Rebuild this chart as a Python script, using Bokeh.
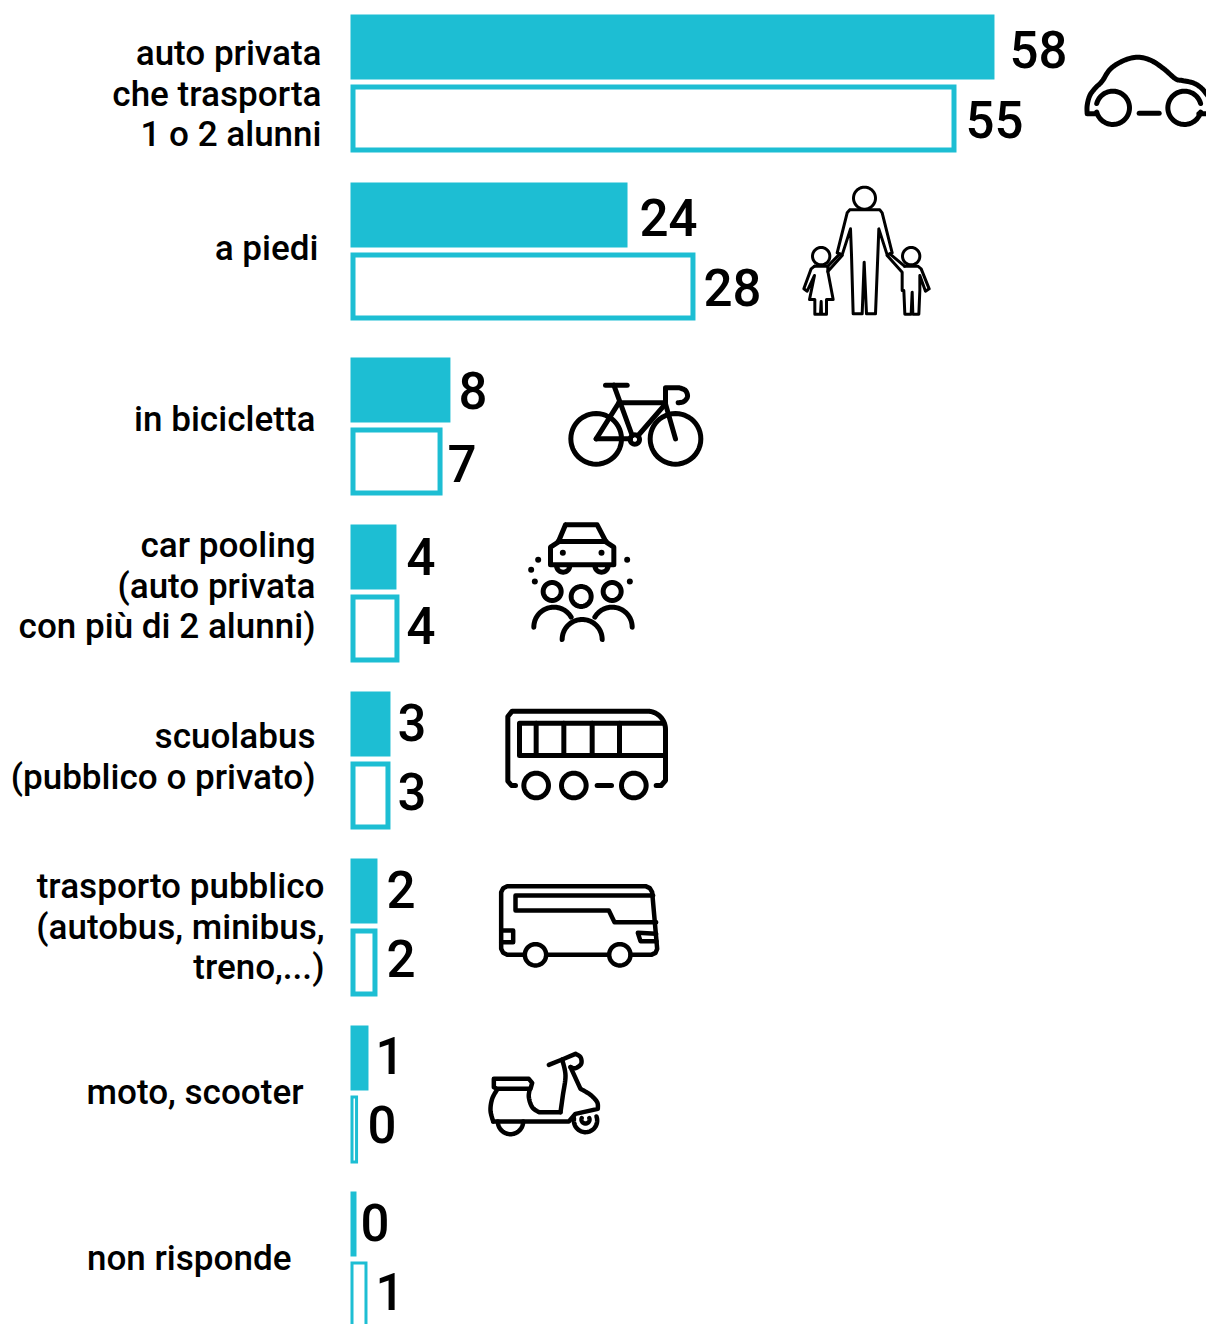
import math
from bokeh.plotting import figure
from bokeh.models import Range1d
from bokeh.core.properties import value
from bokeh.embed import file_html
from bokeh.resources import INLINE

# ---------- data ----------
categories = [
    ["auto privata", "che trasporta", "1 o 2 alunni"],
    ["a piedi"],
    ["in bicicletta"],
    ["car pooling", "(auto privata", "con più di 2 alunni)"],
    ["scuolabus", "(pubblico o privato)"],
    ["trasporto pubblico", "(autobus, minibus,", "treno,...)"],
    ["moto, scooter"],
    ["non risponde"],
]
labels_a = ["58", "24", "8", "4", "3", "2", "1", "0"]
labels_b = ["55", "28", "7", "4", "3", "2", "0", "1"]
lengths_a = [58.0, 24.95, 9.0, 4.14, 3.6, 2.43, 1.62, 0.54]
lengths_b = [54.58, 31.07, 8.29, 4.41, 3.6, 2.43, 0.68, 1.53]

# ---------- layout ----------
W, H = 1206, 1324
X0, PX_PER_UNIT = 350, 11.103
INK, CYAN = "#000000", "#1DBED3"
FONT = value("Roboto Medium")
row_top = [14, 182, 357, 524, 691, 858, 1025, 1191]
label_right = [321, 318, 315, 315, 315, 324, 303, 291]
label_base = [66, 261, 432, 558, 749, 899, 1105, 1271]
value_x_a = [1009, 639, 458, 406, 397, 386, 375, 360]
value_x_b = [965, 703, 447, 406, 397, 386, 367, 375]
value_base_a = [68, 236, 409, 575, 741, 908, 1074, 1241]
value_base_b = [138, 306, 482, 644, 810, 977, 1143, 1310]
outline_w = [5, 5, 5, 5, 5, 5, 3, 3]

p = figure(width=W, height=H, toolbar_location=None, output_backend="svg",
           x_range=Range1d(-X0 / PX_PER_UNIT, (W - X0) / PX_PER_UNIT),
           y_range=Range1d(H, 0),
           min_border=0, min_border_left=0, min_border_right=0,
           min_border_top=0, min_border_bottom=0, outline_line_color=None,
           background_fill_color="white", border_fill_color="white")
p.xaxis.visible = False
p.yaxis.visible = False
p.grid.visible = False
p.extra_x_ranges = {"px": Range1d(0, W)}

# filled bars
p.quad(left=0, right=lengths_a, top=row_top, bottom=[t + 65 for t in row_top],
       fill_color=CYAN, line_color=None)
# outlined bars
inset = [lw / 2 for lw in outline_w]
p.quad(left=[i / PX_PER_UNIT for i in inset],
       right=[v - i / PX_PER_UNIT for v, i in zip(lengths_b, inset)],
       top=[t + 70 + i for t, i in zip(row_top, inset)],
       bottom=[t + 138 - i for t, i in zip(row_top, inset)],
       fill_color="white", line_color=CYAN, line_width=outline_w, line_join="miter")

# category labels
tx, ty, tt = [], [], []
for lines, r, b in zip(categories, label_right, label_base):
    for i, s in enumerate(lines):
        tx.append(r); ty.append(b + 40.5 * i); tt.append(s)
p.text(x=tx, y=ty, text=tt, x_range_name="px", text_font=FONT, text_font_size="35px",
       y_offset=-13, text_align="right", text_baseline="alphabetic", text_color=INK)

# value labels
p.text(x=value_x_a + value_x_b, y=value_base_a + value_base_b, text=labels_a + labels_b, x_range_name="px",
       text_font=FONT, text_font_size="51px", y_offset=-19, text_align="left",
       text_baseline="alphabetic", text_color=INK)


# ---------- pictograms (decorative, drawn in page pixels) ----------
def arc(cx, cy, r, a0=0, a1=360, n=48):
    return [(cx + r * math.cos(math.radians(a0 + (a1 - a0) * k / n)),
             cy + r * math.sin(math.radians(a0 + (a1 - a0) * k / n))) for k in range(n + 1)]


def smooth(pts, n=8):
    out = []
    P = [pts[0]] + list(pts) + [pts[-1]]
    for i in range(1, len(P) - 2):
        p0, p1, p2, p3 = P[i - 1], P[i], P[i + 1], P[i + 2]
        for k in range(n):
            t = k / n
            out.append(tuple(0.5 * (2 * p1[c] + (p2[c] - p0[c]) * t + (2 * p0[c] - 5 * p1[c] + 4 * p2[c] - p3[c]) * t * t
                                    + (3 * p1[c] - p0[c] - 3 * p2[c] + p3[c]) * t * t * t) for c in (0, 1)))
    out.append(pts[-1])
    return out


def icon(ox, oy, paths, lw, dots=()):
    xs = [[ox + q[0] / 3 for q in path] for path in paths]
    ys = [[oy + q[1] / 3 for q in path] for path in paths]
    p.multi_line(xs=xs, ys=ys, x_range_name="px", line_color=INK, line_width=lw,
                 line_cap="round", line_join="round")
    if dots:
        p.scatter(x=[ox + d[0] / 3 for d in dots], y=[oy + d[1] / 3 for d in dots],
                  size=[d[2] * 2 / 3 for d in dots], x_range_name="px",
                  fill_color=INK, line_color=None)


# car
icon(1060, 30, [
    [(105, 250), (80, 250)] + smooth([(80, 250), (80, 225), (88, 195), (105, 172), (125, 152), (150, 115), (190, 90),
                                      (232, 80), (272, 90), (310, 115), (345, 145), (365, 150), (400, 158), (425, 175),
                                      (445, 200)]),
    arc(157, 232, 50, -165, 165),
    arc(372, 232, 50, 15, 345),
    [(415, 250), (445, 250)],
    [(236, 248), (296, 248)],
], 5)

# family
icon(790, 175, [
    arc(222, 68, 33),
    [(178, 103), (268, 103), (275, 112), (305, 232), (290, 238), (265, 160), (262, 238), (255, 415), (228, 415),
     (221, 260), (215, 415), (188, 415), (183, 238), (180, 160), (155, 238), (140, 232), (170, 112), (178, 103)],
    arc(92, 242, 26),
    [(72, 272), (112, 272), (112, 288), (155, 240)],
    [(148, 235), (112, 272)],
    [(112, 288), (128, 372), (108, 372), (108, 416), (93, 416), (92, 378), (90, 416), (73, 416), (73, 372), (57, 372),
     (72, 300), (50, 347), (40, 340), (62, 280), (72, 272)],
    arc(362, 242, 26),
    [(342, 272), (382, 272), (392, 280), (416, 340), (405, 347), (388, 300), (388, 345), (385, 416), (367, 416),
     (365, 350), (362, 416), (343, 416), (340, 345), (335, 345), (335, 290), (290, 240)],
    [(298, 235), (342, 272)],
], 3)

# bicycle
icon(555, 370, [
    arc(122, 205, 76), arc(360, 205, 76), arc(238, 207, 14),
    [(150, 44), (215, 44)],
    [(175, 44), (230, 195)],
    [(190, 97), (330, 97)],
    [(330, 100), (248, 195)],
    [(122, 205), (225, 205)],
    [(122, 205), (190, 97)],
    [(330, 100), (330, 52), (372, 52)] + smooth([(372, 52), (390, 60), (396, 78), (385, 93), (368, 97)]),
    [(330, 100), (360, 205)],
], 5)

# car pooling
icon(515, 515, [
    [(150, 28), (245, 28), (272, 80), (295, 95), (295, 148), (105, 148), (105, 95), (128, 80), (150, 28)],
    [(128, 78), (272, 78)],
    arc(143, 150, 20, 0, 180), arc(258, 150, 20, 0, 180),
    arc(110, 228, 27), arc(197, 243, 30), arc(290, 228, 27),
    arc(115, 335, 60, 180, 330), arc(200, 372, 60, 180, 360), arc(290, 335, 60, 210, 360),
], 5, dots=[(142, 112, 9), (258, 112, 9), (68, 133, 9), (47, 163, 9), (58, 198, 9), (335, 133, 9), (343, 198, 9)])

# school bus
icon(495, 700, [
    [(60, 255), (48, 255), (37, 242), (37, 48), (50, 32), (455, 32)] + arc(455, 87, 55, -90, 0)
    + [(510, 240), (497, 255), (482, 255)],
    [(505, 68), (72, 68), (72, 165), (510, 165)],
    [(122, 68), (122, 165)], [(205, 68), (205, 165)], [(290, 68), (290, 165)], [(372, 68), (372, 165)],
    arc(122, 255, 37), arc(235, 255, 37), arc(415, 255, 37),
    [(305, 255), (348, 255)],
], 5)

# coach
icon(490, 875, [
    [(100, 238), (50, 238), (38, 232), (32, 220), (32, 50), (38, 38), (50, 32), (465, 32), (478, 38), (485, 50),
     (500, 220), (495, 232), (482, 238), (420, 238)],
    [(170, 238), (355, 238)],
    arc(135, 238, 32), arc(388, 238, 32),
    [(488, 60), (75, 60), (75, 105), (355, 105), (372, 140), (497, 140)],
    [(32, 165), (68, 165), (68, 200), (32, 200)],
    [(497, 175), (442, 172), (450, 197), (498, 197)],
], 4.5)

# scooter
icon(480, 1045, [
    [(205, 58), (245, 42), (285, 25)] + smooth([(285, 25), (300, 35), (302, 55), (285, 68), (270, 65)]),
    [(270, 65), (300, 130)] + smooth([(300, 130), (330, 148), (350, 170), (352, 190)]) + [(285, 205), (265, 228), (38, 228)],
    smooth([(38, 228), (30, 195), (35, 160), (50, 132)]),
    [(50, 130), (40, 125), (40, 100), (145, 100), (155, 112), (150, 130), (50, 130)],
    smooth([(148, 130), (145, 155), (155, 185), (175, 200)]) + [(240, 200)],
    smooth([(240, 200), (247, 150), (255, 90), (245, 42)]),
    arc(90, 228, 38, 0, 180),
    arc(315, 225, 35, -20, 190),
    arc(315, 222, 12, -20, 200),
], 4.5)

open("out.html", "w").write(file_html(p, INLINE))
